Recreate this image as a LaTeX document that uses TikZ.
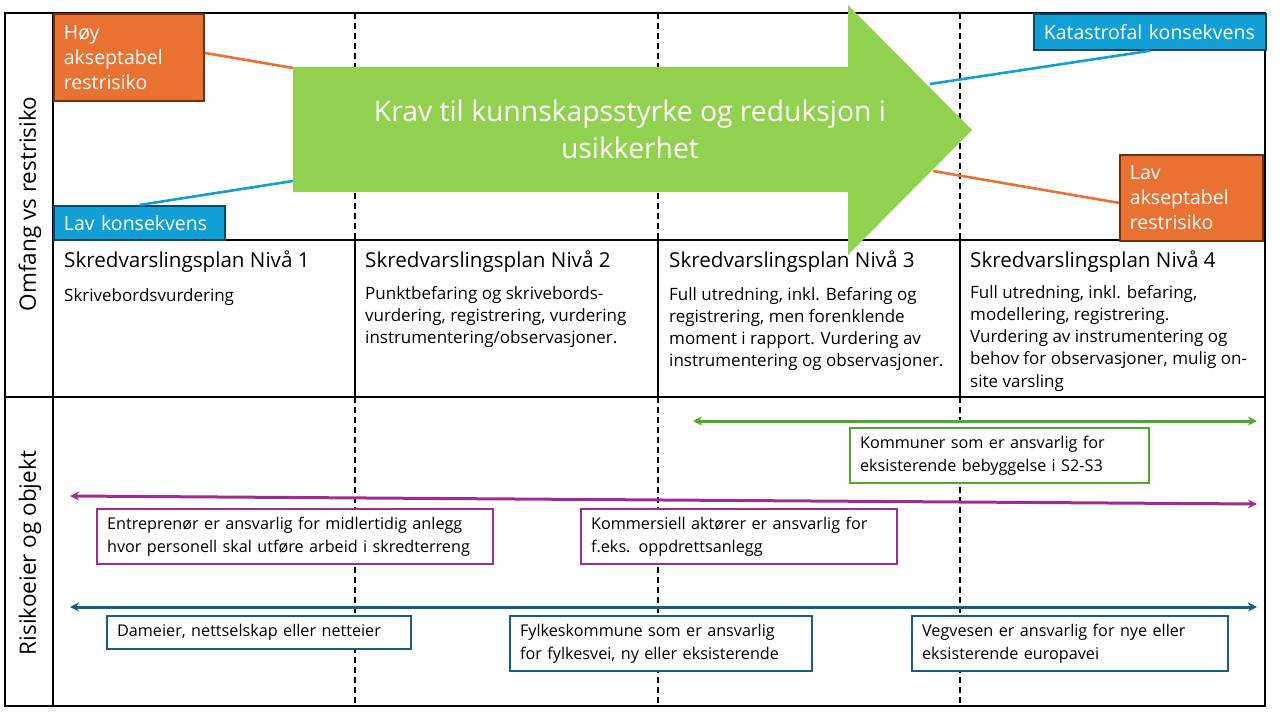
\documentclass[tikz,border=0pt]{standalone}
\usepackage{fontspec}
\setmainfont{Open Sans}
\usetikzlibrary{positioning, arrows.meta}

\definecolor{oransje}{HTML}{E97132}
\definecolor{brunkant}{HTML}{6E3212}
\definecolor{lyseblaa}{HTML}{129FD6}
\definecolor{blaakant}{HTML}{0C4863}
\definecolor{pilgronn}{HTML}{92D050}
\definecolor{gronn}{HTML}{4EA72E}
\definecolor{lilla}{HTML}{A02B93}
\definecolor{morkblaa}{HTML}{156082}

\tikzset{
  ramme/.style={line width=1.8pt},
  skille/.style={line width=1.5pt, dash pattern=on 6pt off 4pt},
  sidetekst/.style={rotate=90, font=\fontsize{22.5}{24}\selectfont},
  toppboks/.style={draw, line width=1.8pt, anchor=north west, text=white, align=left,
    inner xsep=10pt, inner ysep=0pt, font=\fontsize{19.5}{25}\selectfont},
  nivaa/.style={anchor=north west, inner sep=0pt, font=\fontsize{20.6}{22}\selectfont},
  beskr/.style={inner sep=0pt, align=left, font=\fontsize{17}{22.2}\selectfont},
  eier/.style={draw, fill=white, line width=2.2pt, anchor=north west, align=left,
    inner xsep=10pt, inner ysep=0pt, font=\fontsize{16.2}{23}\selectfont},
  ansvar/.style={line width=3pt, {Stealth[length=9pt,width=9pt]}-{Stealth[length=9pt,width=9pt]}}
}

\begin{document}
\begin{tikzpicture}[x=1pt, y=-1pt]
\useasboundingbox (0,0) rectangle (1280,720);

% ramme og tabell
\draw[ramme] (5,13) rectangle (1265,706);
\draw[ramme] (53,13) -- (53,706);
\draw[ramme] (53,240) -- (1265,240);
\draw[ramme] (5,397) -- (1265,397);
\foreach \x in {355,658,960} {
  \draw[skille] (\x,13) -- (\x,240);
  \draw[ramme] (\x,240) -- (\x,397);
  \draw[skille] (\x,397) -- (\x,706);
}

\node (omfang) [sidetekst] at (30,204) {Omfang vs restrisiko};
\node (eier) [sidetekst] at (30,553) {Risikoeier og objekt};

% nivåer
\node (n1) [nivaa] at (64,251) {Skredvarslingsplan Nivå 1};
\node (n2) [nivaa] at (365,251) {Skredvarslingsplan Nivå 2};
\node (n3) [nivaa] at (669,251) {Skredvarslingsplan Nivå 3};
\node (n4) [nivaa] at (970,251) {Skredvarslingsplan Nivå 4};

\node (b1) [beskr, below=15pt of n1.south west, anchor=north west] {Skrivebordsvurdering};
\node (b2) [beskr, below=13pt of n2.south west, anchor=north west] {Punktbefaring og skrivebords-\\vurdering, registrering, vurdering\\instrumentering/observasjoner.};
\node (b3) [beskr, below=14pt of n3.south west, anchor=north west] {Full utredning, inkl. Befaring og\\registrering, men forenklende\\moment i rapport. Vurdering av\\instrumentering og observasjoner.};
\node (b4) [beskr, below=12pt of n4.south west, anchor=north west] {Full utredning, inkl. befaring,\\modellering, registrering.\\Vurdering av instrumentering og\\behov for observasjoner, mulig on-\\site varsling};

% konsekvens og restrisiko
\node (hoy) [toppboks, fill=oransje, draw=brunkant, text width=130pt, minimum height=87pt] at (53,13) {Høy\\akseptabel\\restrisiko};
\node (lavkons) [toppboks, fill=lyseblaa, draw=blaakant, text width=151pt, minimum height=34pt] at (53,205) {Lav konsekvens};
\node (kat) [toppboks, fill=lyseblaa, draw=blaakant, text width=212pt, minimum height=36pt] at (1033,13) {Katastrofal konsekvens};
\node (lavaks) [toppboks, fill=oransje, draw=brunkant, text width=123pt, minimum height=86pt] at (1119,154) {Lav\\akseptabel\\restrisiko};

\coordinate (pil-hoy) at (293,68);
\coordinate (pil-lav) at (293,181);
\coordinate (pil-kat) at (930,84);
\coordinate (pil-lavaks) at (933,171);
\draw[oransje, line width=2.6pt] ([yshift=4.5pt]hoy.east) -- (pil-hoy);
\draw[lyseblaa, line width=2.6pt] (lavkons.north) -- (pil-lav);
\draw[lyseblaa, line width=2.6pt] (kat.south) -- (pil-kat);
\draw[oransje, line width=2.6pt] ([yshift=-5pt]lavaks.west) -- (pil-lavaks);

% stor pil
\fill[pilgronn] (293,67) -- (848,67) -- (848,5) -- (972,130) -- (848,255) -- (848,192) -- (293,192) -- cycle;
\node (krav) [align=center, text=white, font=\fontsize{28.3}{37}\selectfont] at (630,129) {Krav til kunnskapsstyrke og reduksjon i\\usikkerhet};

% risikoeiere
\coordinate (kom-v) at (693,421);
\coordinate (kom-h) at (1257,421);
\coordinate (lil-v) at (70,496);
\coordinate (lil-h) at (1257,504);
\coordinate (bla-v) at (70,607);
\coordinate (bla-h) at (1257,607);
\draw[ansvar, gronn] (kom-v) -- (kom-h);
\draw[ansvar, lilla] (lil-v) -- (lil-h);
\draw[ansvar, morkblaa] (bla-v) -- (bla-h);

\node (kommune) [eier, draw=gronn, text width=279pt, minimum height=55pt] at (849,427) {Kommuner som er ansvarlig for\\eksisterende bebyggelse i S2-S3};
\node (entrepr) [eier, draw=lilla, text width=376pt, minimum height=55pt] at (96,508) {Entreprenør er ansvarlig for midlertidig anlegg\\hvor personell skal utføre arbeid i skredterreng};
\node (kommers) [eier, draw=lilla, text width=296pt, minimum height=55pt] at (580,508) {Kommersiell aktører er ansvarlig for\\f.eks. oppdrettsanlegg};
\node (dameier) [eier, draw=morkblaa, text width=284pt, minimum height=33pt] at (106,615) {Dameier, nettselskap eller netteier};
\node (fylke) [eier, draw=morkblaa, text width=282pt, minimum height=55pt] at (509,615) {Fylkeskommune som er ansvarlig\\for fylkesvei, ny eller eksisterende};
\node (vegvesen) [eier, draw=morkblaa, text width=296pt, minimum height=55pt] at (911,615) {Vegvesen er ansvarlig for nye eller\\eksisterende europavei};
\end{tikzpicture}
\end{document}
